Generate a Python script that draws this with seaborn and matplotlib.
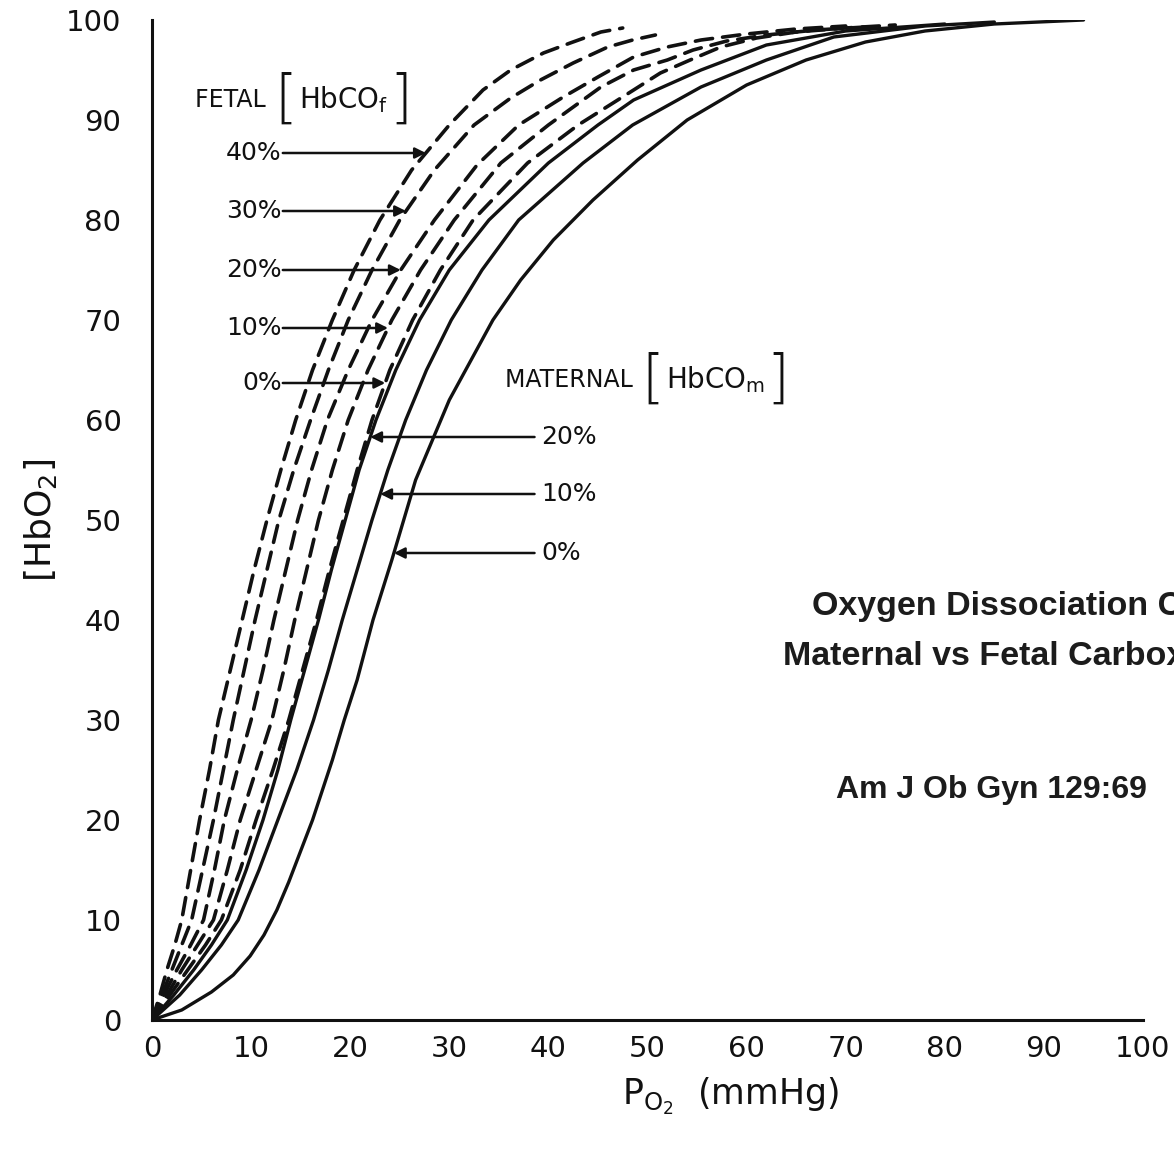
import numpy as np
import matplotlib
matplotlib.use("Agg")
import matplotlib.pyplot as plt
from matplotlib.offsetbox import TextArea, HPacker, AnnotationBbox
import seaborn as sns

# ---------------- data ----------------
# Fetal curves (dashed), labelled by fetal [HbCO_f]
fetal_labels = ["40%", "30%", "20%", "10%", "0%"]
f40_po2 = [0, 0.8, 1.5, 2.3, 3.0, 3.9, 4.8, 5.8, 6.7, 7.9, 9.1, 10.3, 11.6, 13.0, 14.5, 16.2, 18.2, 20.4, 23.0, 26.2, 30.0, 33.4, 36.2, 39.5, 42.2, 45.3, 47.5]
f40_hbo2 = [0, 2.5, 5, 7.5, 10, 15, 20, 25, 30, 35, 40, 45, 50, 55, 60, 65, 70, 75, 80, 85, 89.5, 93, 95, 96.7, 97.7, 98.8, 99.2]
f30_po2 = [0, 1.0, 2.0, 3.0, 4.0, 5.1, 6.2, 7.2, 8.2, 9.3, 10.4, 11.6, 12.8, 14.3, 16.0, 17.8, 19.8, 22.2, 25.0, 28.5, 32.5, 36.2, 39.2, 42.5, 46.0, 48.5, 50.8]
f30_hbo2 = [0, 2.5, 5, 7.5, 10, 15, 20, 25, 30, 35, 40, 45, 50, 55, 60, 65, 70, 75, 80, 85, 89.5, 92.2, 94, 95.7, 97.3, 98, 98.5]
f20_po2 = [0, 1.2, 2.5, 3.9, 5.2, 6.3, 7.3, 8.6, 10.0, 11.2, 12.3, 13.5, 14.7, 16.1, 17.7, 19.8, 22.2, 25.1, 28.5, 32.8, 37.0, 41.5, 45.0, 48.6, 52.0, 55.4, 60.0, 65.0, 70.0]
f20_hbo2 = [0, 2.5, 5, 7.5, 10, 15, 20, 25, 30, 35, 40, 45, 50, 55, 60, 65, 70, 75, 80, 85.5, 89.5, 92.3, 94.3, 96.3, 97.3, 98, 98.6, 99.1, 99.4]
f10_po2 = [0, 1.5, 3.0, 4.6, 6.2, 7.6, 8.9, 10.5, 12.1, 13.3, 14.4, 15.6, 16.8, 18.2, 19.8, 21.8, 24.2, 27.1, 30.5, 35.2, 40.0, 45.3, 48.6, 52.0, 54.6, 58.0, 62.0, 67.0, 72.0]
f10_hbo2 = [0, 2.5, 5, 7.5, 10, 15, 20, 25, 30, 35, 40, 45, 50, 55, 60, 65, 70, 75, 80, 85.7, 89.5, 93.3, 95, 96, 97, 97.9, 98.5, 99, 99.3]
f0_po2 = [0, 1.8, 3.6, 5.4, 7.0, 8.9, 10.5, 12.2, 13.8, 15.2, 16.6, 17.9, 19.3, 20.7, 22.2, 24.0, 26.3, 29.1, 32.4, 37.9, 43.0, 48.6, 51.3, 54.3, 57.4, 61.0, 65.0, 70.0, 75.0]
f0_hbo2 = [0, 2.5, 5, 7.5, 10, 15, 20, 25, 30, 35, 40, 45, 50, 55, 60, 65, 70, 75, 80, 85.7, 89.5, 93, 94.7, 96, 97.3, 98.2, 98.8, 99.2, 99.5]

# Maternal curves (solid), labelled by maternal [HbCO_m]
maternal_labels = ["20%", "10%", "0%"]
m20_po2 = [0, 2.2, 4.2, 6.0, 7.6, 9.5, 11.2, 12.7, 14.0, 15.4, 16.8, 18.1, 19.5, 20.9, 22.6, 24.6, 27.0, 30.0, 34.0, 40.0, 45.0, 48.6, 55.4, 62.0, 70.0, 80.0]
m20_hbo2 = [0, 2.5, 5, 7.5, 10, 15, 20, 25, 30, 35, 40, 45, 50, 55, 60, 65, 70, 75, 80, 85.7, 89.5, 92, 95, 97.5, 98.9, 99.6]
m10_po2 = [0, 2.8, 5.0, 7.0, 8.7, 10.8, 12.7, 14.6, 16.3, 17.8, 19.2, 20.7, 22.2, 23.8, 25.6, 27.7, 30.2, 33.3, 37.0, 43.5, 48.5, 55.4, 62.0, 68.8, 78.0, 85.0]
m10_hbo2 = [0, 2.5, 5, 7.5, 10, 15, 20, 25, 30, 35, 40, 45, 50, 55, 60, 65, 70, 75, 80, 85.7, 89.5, 93.3, 96, 98.3, 99.4, 99.8]
m0_po2 = [0, 3.0, 6.0, 8.2, 9.9, 11.3, 12.6, 13.8, 16.2, 18.2, 19.4, 20.7, 22.3, 24.2, 25.4, 26.6, 28.3, 30.0, 32.2, 34.4, 37.2, 40.5, 44.5, 49.0, 54.0, 60.0, 66.0, 72.0, 78.0, 85.0, 94.0]
m0_hbo2 = [0, 1.0, 2.8, 4.5, 6.4, 8.5, 11.0, 13.8, 20, 26, 30, 34, 40, 46, 50, 54, 58, 62, 66, 70, 74, 78, 82, 86, 90, 93.5, 96, 97.8, 98.9, 99.6, 100]

x_ticks = [0, 10, 20, 30, 40, 50, 60, 70, 80, 90, 100]
y_ticks = [0, 10, 20, 30, 40, 50, 60, 70, 80, 90, 100]
fetal_label_y = [86.7, 80.9, 75.0, 69.2, 63.7]
maternal_label_y = [58.3, 52.6, 46.7]

fetal_curves = [(f40_po2, f40_hbo2), (f30_po2, f30_hbo2), (f20_po2, f20_hbo2),
                (f10_po2, f10_hbo2), (f0_po2, f0_hbo2)]
maternal_curves = [(m20_po2, m20_hbo2), (m10_po2, m10_hbo2), (m0_po2, m0_hbo2)]

# ---------------- styling ----------------
sns.set_theme(style="white")
plt.rcParams["font.family"] = ["DejaVu Sans"]
plt.rcParams["mathtext.default"] = "regular"
INK = "#111111"

fig = plt.figure(figsize=(11.74, 11.57), dpi=100)
ax = fig.add_axes([152 / 1174, 137 / 1157, 991 / 1174, 1000 / 1157])

for xs, ys in fetal_curves:
    sns.lineplot(x=xs, y=ys, ax=ax, color=INK, lw=2.6, estimator=None, sort=False)
    ax.lines[-1].set_dashes([4.8, 2.8])
    ax.lines[-1].set_dash_capstyle("round")
for xs, ys in maternal_curves:
    sns.lineplot(x=xs, y=ys, ax=ax, color=INK, lw=2.4, estimator=None, sort=False)

ax.set_xlim(0, 100)
ax.set_ylim(0, 100)
ax.set_xticks(x_ticks)
ax.set_yticks(y_ticks)
ax.set_xticklabels([str(t) for t in x_ticks])
ax.set_yticklabels([str(t) for t in y_ticks])
ax.tick_params(axis="both", direction="in", length=10, width=1.8, colors=INK,
               labelsize=21, labelcolor=INK)
ax.tick_params(axis="x", pad=11)
ax.tick_params(axis="y", pad=22)
for side in ["top", "right"]:
    ax.spines[side].set_visible(False)
for side in ["left", "bottom"]:
    ax.spines[side].set_color(INK)
    ax.spines[side].set_linewidth(2.2)
ax.set_xlabel("")
ax.set_ylabel("")


def bracket_label(x, y, word, inner):
    """Word followed by a tall-bracketed chemical symbol, anchored at its left-centre."""
    small = dict(fontsize=17, color=INK)
    big = dict(fontsize=42, color=INK, fontweight="light")
    parts = [TextArea(word + " ", textprops=small),
             TextArea("[", textprops=big),
             TextArea(inner, textprops=dict(fontsize=20, color=INK)),
             TextArea("]", textprops=big)]
    box = HPacker(children=parts, align="center", pad=0, sep=1)
    ab = AnnotationBbox(box, (x, y), xycoords="data", box_alignment=(0, 0.5),
                        frameon=False, pad=0, annotation_clip=False)
    ax.add_artist(ab)


arrow_kw = dict(arrowstyle="-|>", color=INK, lw=1.8, mutation_scale=16,
                shrinkA=0, shrinkB=0)

# fetal labels and arrows
bracket_label(4.3, 92.0, "FETAL", r"HbCO$_f$")
for lab, yl, (xs, ys) in zip(fetal_labels, fetal_label_y, fetal_curves):
    xc = np.interp(yl, ys, xs)
    ax.text(13.1, yl, lab, fontsize=18, color=INK, ha="right", va="center")
    ax.annotate("", xy=(xc, yl), xytext=(13.2, yl), arrowprops=arrow_kw)

# maternal labels and arrows
bracket_label(35.6, 64.0, "MATERNAL", r"HbCO$_m$")
for lab, yl, (xs, ys) in zip(maternal_labels, maternal_label_y, maternal_curves):
    xc = np.interp(yl, ys, xs)
    ax.text(39.3, yl, lab, fontsize=18, color=INK, ha="left", va="center")
    ax.annotate("", xy=(xc, yl), xytext=(38.6, yl), arrowprops=arrow_kw)

# axis titles
ax.text(-11.3, 50, r"$\left[HbO_2\right]$", fontsize=26, color=INK, rotation=90,
        ha="center", va="center", clip_on=False)
ax.text(58.4, -7.6, r"$P_{O_2}$  (mmHg)", fontsize=25, color=INK,
        ha="center", va="center", clip_on=False)

# overlaid caption (runs off the right edge as in the reference)
cap = dict(fontweight="bold", color="#1c1c1c",
           family=["Liberation Sans", "DejaVu Sans"], ha="left", va="center",
           clip_on=False)
ax.text(66.6, 41.4, "Oxygen Dissociation Curves", fontsize=24.5, **cap)
ax.text(63.7, 36.4, "Maternal vs Fetal Carboxyhemoglobin", fontsize=24.5, **cap)
ax.text(69.0, 23.0, "Am J Ob Gyn 129:69", fontsize=23, **cap)

fig.savefig("out.png", dpi=100, facecolor="white")
